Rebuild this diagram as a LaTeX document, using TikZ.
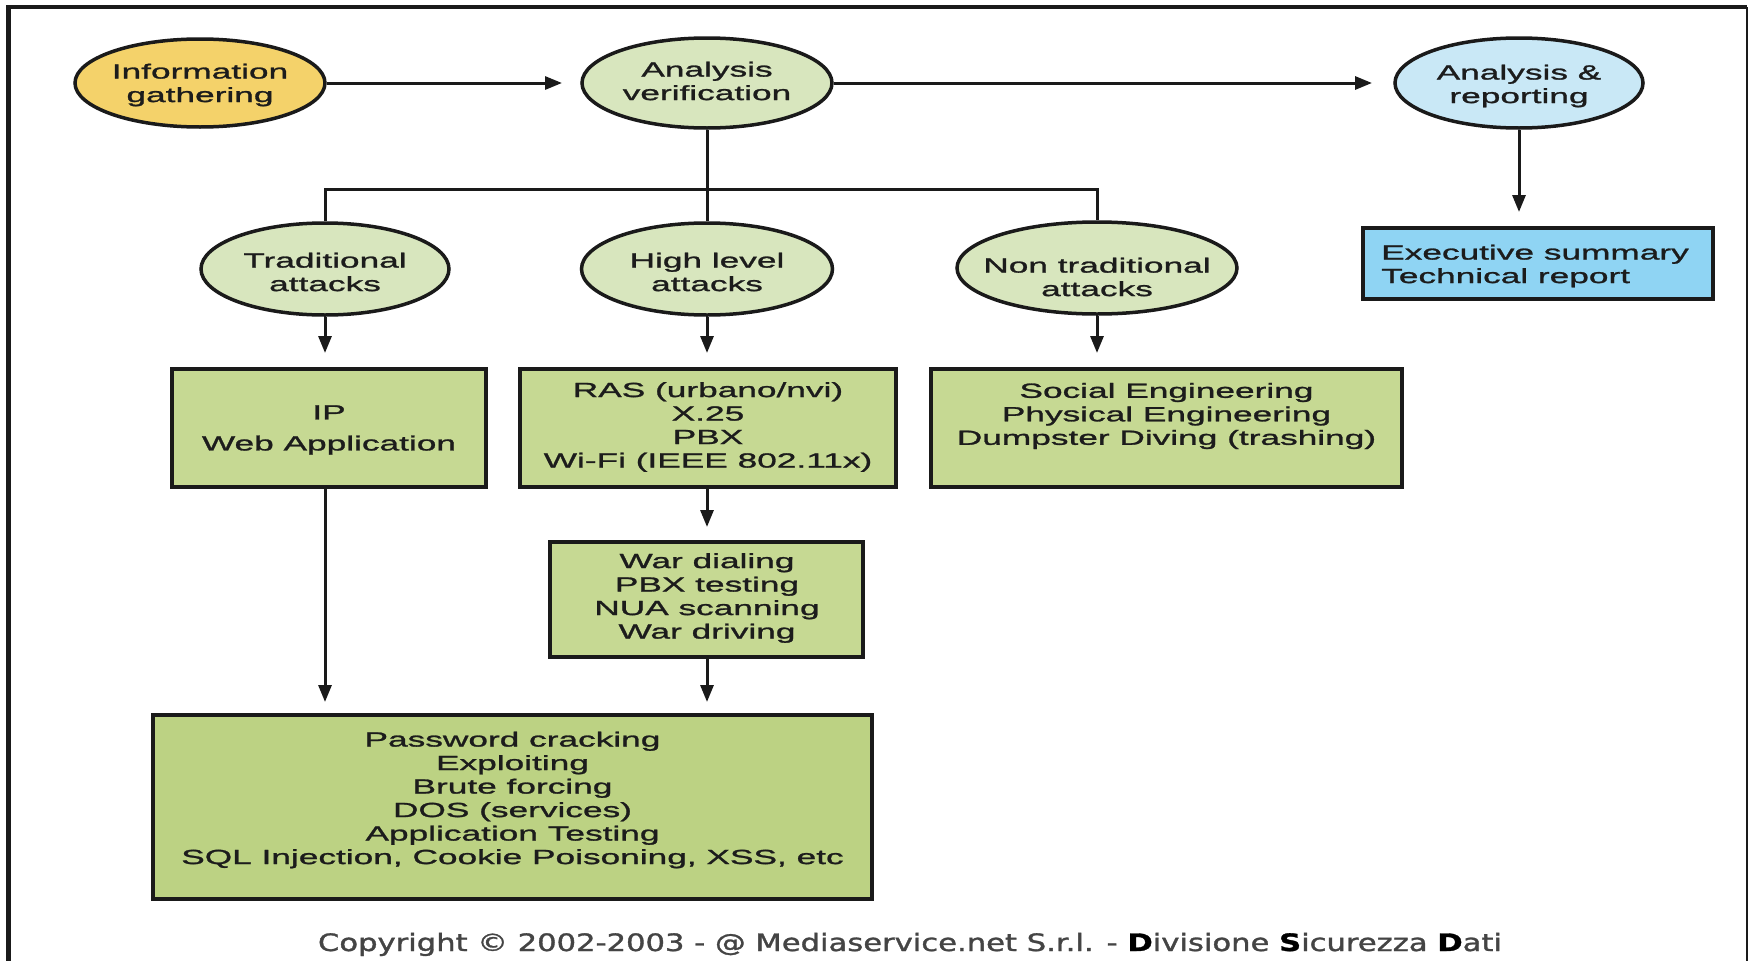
\documentclass[tikz,border=0pt]{standalone}
\usepackage{fontspec}
\setmainfont{Liberation Sans}[FakeStretch=1.72,FakeBold=1.3]
\newfontfamily\cpfont{DejaVu Sans}[FakeBold=1.2]
\usetikzlibrary{arrows.meta,shapes.geometric}
\definecolor{yel}{HTML}{F4D26A}
\definecolor{ellg}{HTML}{D8E6BE}
\definecolor{boxg}{HTML}{C6D993}
\definecolor{pwdg}{HTML}{BCD283}
\definecolor{ellb}{HTML}{C9E8F6}
\definecolor{boxb}{HTML}{8FD4F3}
\definecolor{linec}{HTML}{1A1A1A}
\definecolor{textc}{HTML}{1C1C1C}
\definecolor{cpgray}{HTML}{444444}
\begin{document}
\begin{tikzpicture}[x=1pt,y=-1pt,
  ell/.style={ellipse, draw=linec, line width=3.5pt, inner sep=0pt},
  boxs/.style={rectangle, draw=linec, line width=3.5pt, inner sep=0pt},
  txt/.style={align=center, text=textc, font=\fontsize{20.5}{23.5}\selectfont, inner sep=0pt},
  conn/.style={draw=linec, line width=3pt},
  arr/.style={conn, -{Triangle[length=17pt,width=13pt]}}]
\useasboundingbox (0,0) rectangle (1754,961);
\fill[white] (0,0) rectangle (1754,961);
% frame
\draw[linec, line width=5pt] (8,961) -- (8,7);
\draw[linec, line width=3.5pt] (6,7) -- (1747,7);
\draw[linec, line width=2.5pt] (1747,7) -- (1747,961);

% top row ellipses
\node[ell, fill=yel, minimum width=250pt, minimum height=88pt] (info) at (200,83) {};
\node[txt] (infot) at (200,85) {Information\\gathering};
\node[ell, fill=ellg, minimum width=250pt, minimum height=90pt] (anv) at (707,83) {};
\node[txt] (anvt) at (707,81) {Analysis\\verification};
\node[ell, fill=ellb, minimum width=248pt, minimum height=90pt] (rep) at (1519,83) {};
\node[txt] (rept) at (1519,86) {Analysis \&\\reporting};

% second row ellipses
\node[ell, fill=ellg, minimum width=248pt, minimum height=92pt] (trad) at (325,269) {};
\node[txt] (tradt) at (325,272) {Traditional\\attacks};
\node[ell, fill=ellg, minimum width=251pt, minimum height=92pt] (high) at (707,269) {};
\node[txt] (hight) at (707,272) {High level\\attacks};
\node[ell, fill=ellg, minimum width=280pt, minimum height=92pt] (nont) at (1097,268) {};
\node[txt] (nontt) at (1097,277) {Non traditional\\attacks};

% boxes
\node[boxs, fill=boxb, minimum width=350pt, minimum height=71pt] (exec) at (1538,263.5) {};
\node[txt, align=left, anchor=west] (exect) at (1381,266) {Executive summary\\Technical report};

\node[boxs, fill=boxg, minimum width=314pt, minimum height=118pt] (ip) at (329,428) {};
\node[txt, font=\fontsize{20.5}{31}\selectfont] (ipt) at (329,430) {IP\\Web Application};
\node[boxs, fill=boxg, minimum width=376pt, minimum height=118pt] (ras) at (708,428) {};
\node[txt] (rast) at (708,427) {RAS (urbano/nvi)\\X.25\\PBX\\Wi-Fi (IEEE 802.11x)};
\node[boxs, fill=boxg, minimum width=471pt, minimum height=118pt] (soc) at (1166.5,428) {};
\node[txt] (soct) at (1166.5,416) {Social Engineering\\Physical Engineering\\Dumpster Diving (trashing)};
\node[boxs, fill=boxg, minimum width=313pt, minimum height=115pt] (war) at (706.5,599.5) {};
\node[txt] (wart) at (707,598) {War dialing\\PBX testing\\NUA scanning\\War driving};
\node[boxs, fill=pwdg, minimum width=719pt, minimum height=184pt] (pwd) at (512.5,807) {};
\node[txt] (pwdt) at (512.5,800) {Password cracking\\Exploiting\\Brute forcing\\DOS (services)\\Application Testing\\SQL Injection, Cookie Poisoning, XSS, etc};

% connector end points
\coordinate (a1) at (562,83);
\coordinate (a2) at (1372,83);
\coordinate (j) at (707,189);
\coordinate (t1) at (325,353);
\coordinate (t2) at (707,353);
\coordinate (t3) at (1097,353);
\coordinate (t4) at (707,527);
\coordinate (t5) at (325,702);
\coordinate (t6) at (707,702);
\coordinate (t7) at (1519,212);

% connectors
\draw[arr] (info.east) -- (a1);
\draw[arr] (anv.east) -- (a2);
\draw[conn] (anv.south) -- (high.north);
\draw[conn] (trad.north) -- (trad.north |- j) -- (nont.north |- j) -- (nont.north);
\draw[arr] (trad.south) -- (t1);
\draw[arr] (high.south) -- (t2);
\draw[arr] (nont.south) -- (t3);
\draw[arr] (rep.south) -- (t7);
\draw[arr] (ras.south -| t4) -- (t4);
\draw[arr] (ip.south -| t5) -- (t5);
\draw[arr] (war.south -| t6) -- (t6);

% copyright
\node[anchor=base, inner sep=0pt, text=cpgray] (copy) at (910,951)
  {\resizebox{1184pt}{\height}{\cpfont\fontsize{24}{24}\selectfont Copyright © 2002-2003 - @ Mediaservice.net S.r.l. - {\color{black}\bfseries D}ivisione {\color{black}\bfseries S}icurezza {\color{black}\bfseries D}ati}};
\end{tikzpicture}
\end{document}
